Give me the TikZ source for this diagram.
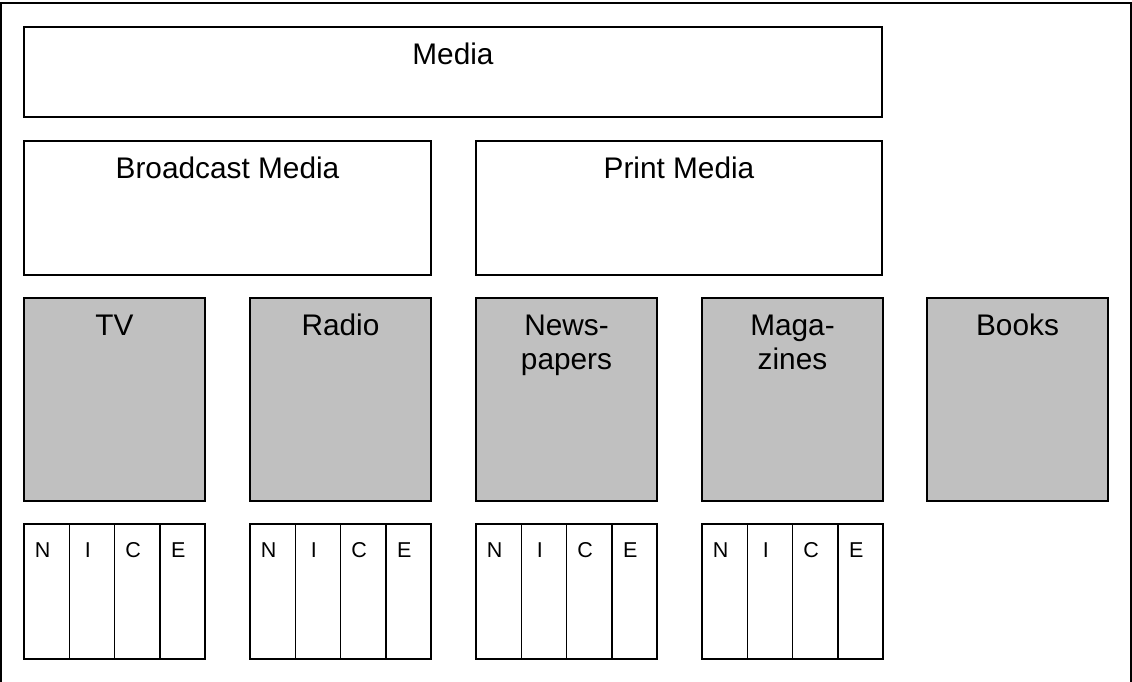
\documentclass[tikz,border=0pt]{standalone}
\usepackage{fontspec}
\setmainfont{Liberation Sans}
\usetikzlibrary{calc}
\definecolor{boxgray}{HTML}{C0C0C0}
\tikzset{
  frame/.style={draw, line width=1.5pt, inner sep=0pt, outer sep=0pt},
  whitebox/.style={frame, fill=white, anchor=north west},
  graybox/.style={frame, fill=boxgray, anchor=north west,
    minimum width=181pt, minimum height=203pt},
  cell/.style={frame, anchor=north west,
    minimum width=45.25pt, minimum height=135pt},
  big/.style={font=\fontsize{29.8}{34}\selectfont, inner sep=0pt,
    anchor=base, align=center},
  small/.style={font=\fontsize{21.5}{24}\selectfont, inner sep=0pt, anchor=base},
}
\begin{document}
\begin{tikzpicture}[x=1pt, y=-1pt]
  \useasboundingbox (0,0) rectangle (1132,682);
  % outer frame
  \node[frame, anchor=north west, minimum width=1130pt, minimum height=682pt]
    (outer) at (1,3) {};

  % top level
  \node[whitebox, minimum width=858pt, minimum height=90pt] (media) at (24,27) {};
  \node[big] (media-label) at ($(media.north)+(0,38)$) {Media};

  % second level
  \node[whitebox, minimum width=407pt, minimum height=134pt] (broadcast) at (24,141) {};
  \node[big] (broadcast-label) at ($(broadcast.north)+(0,37.5)$) {Broadcast Media};
  \node[whitebox, minimum width=406pt, minimum height=134pt] (print) at (476,141) {};
  \node[big] (print-label) at ($(print.north)+(0,37.5)$) {Print Media};

  % individual media (the offset is the baseline of the last text line)
  \foreach \name/\x/\dy/\txt in {tv/24/37/TV, radio/250/37/Radio,
                                 news/476/71/{News-\\papers},
                                 mags/702/71/{Maga-\\zines}, books/927/37/Books} {
    \node[graybox] (\name) at (\x,298) {};
    \node[big] (\name-label) at ($(\name.north)+(0,\dy)$) {\txt};
  }

  % N I C E columns
  \foreach \g/\x in {tv/24, radio/250, news/476, mags/702} {
    \foreach \l [count=\i from 0] in {N,I,C,E} {
      \node[cell] (\g-\l) at (\x+\i*45.25,524) {};
      \node[small] (\g-\l-label) at ($(\g-\l.north)+(-4,33)$) {\l};
    }
  }
\end{tikzpicture}
\end{document}
